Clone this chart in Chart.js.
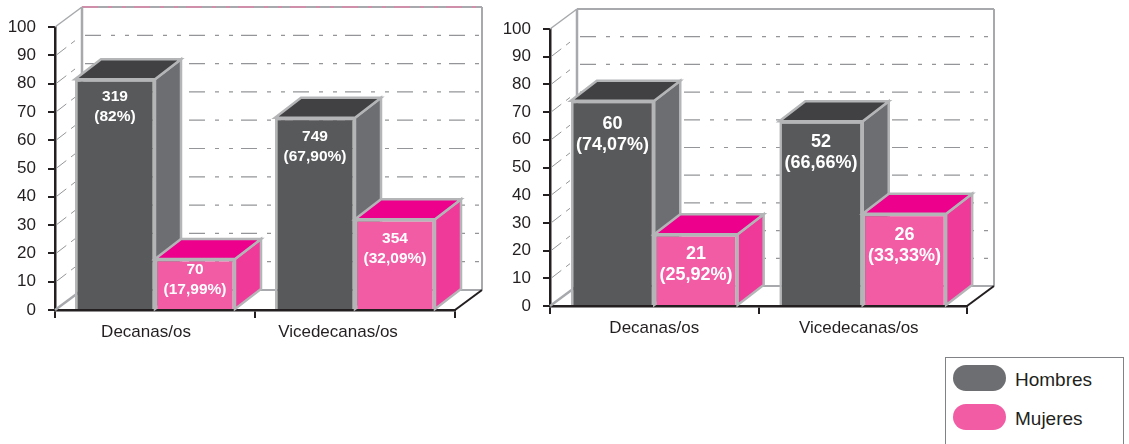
<!DOCTYPE html>
<html>
<head>
<meta charset="utf-8">
<title>Decanas y vicedecanas</title>
<script src="https://cdn.jsdelivr.net/npm/chart.js@4"></script>
<style>
  body { margin: 0; background: #fff; font-family: "Liberation Sans", sans-serif; color: #231f20; }
  #wrap { position: relative; width: 1129px; height: 444px; overflow: hidden; }
  canvas { position: absolute; top: 0; }
  #legend { position: absolute; left: 945px; top: 357px; width: 177px; height: 90px; border: 1px solid #808285; }
  .item { position: absolute; left: 7px; height: 26px; line-height: 26px; font-size: 19px; }
  .item i { position: absolute; left: 0; top: 0; width: 53px; height: 26px; border-radius: 13px; }
  .item span { position: absolute; left: 62px; top: 2px; white-space: nowrap; }
</style>
</head>
<body>
<div id="wrap">
  <canvas id="chartLeft" style="left:0"></canvas>
  <canvas id="chartRight" style="left:500px"></canvas>
  <div id="legend"></div>
</div>
<script>
const categories = ['Decanas/os', 'Vicedecanas/os'];
const seriesNames = ['Hombres', 'Mujeres'];

// percentages
const leftHombres = [81.5, 67.9];
const leftMujeres = [17.99, 32.09];
const rightHombres = [74.07, 66.66];
const rightMujeres = [25.92, 33.33];

// text printed on the bars
const leftHombresText = [['319', '(82%)'], ['749', '(67,90%)']];
const leftMujeresText = [['70', '(17,99%)'], ['354', '(32,09%)']];
const rightHombresText = [['60', '(74,07%)'], ['52', '(66,66%)']];
const rightMujeresText = [['21', '(25,92%)'], ['26', '(33,33%)']];

const INK = '#231f20';
const EDGE = '#b4b5b7';
const WALL = '#a7a9ac';
const faces = [
  { front: '#58595b', side: '#6d6e71', top: '#414042', legend: '#6d6e71' },
  { front: '#f15ca4', side: '#ef3a9a', top: '#ec008c', legend: '#f15ca4' }
];
const DX = 27, DY = 20;

function line(ctx, x1, y1, x2, y2, color, width, dash) {
  ctx.save();
  ctx.strokeStyle = color;
  ctx.lineWidth = width;
  ctx.setLineDash(dash || []);
  ctx.beginPath();
  ctx.moveTo(x1, y1);
  ctx.lineTo(x2, y2);
  ctx.stroke();
  ctx.restore();
}

function face(ctx, pts, fill) {
  ctx.beginPath();
  pts.forEach((p, i) => i ? ctx.lineTo(p[0], p[1]) : ctx.moveTo(p[0], p[1]));
  ctx.closePath();
  ctx.fillStyle = fill;
  ctx.fill();
  ctx.strokeStyle = EDGE;
  ctx.lineWidth = 2.5;
  ctx.lineJoin = 'miter';
  ctx.stroke();
}

// top and side of a bar go under its front
function drawDepth(chart, index) {
  const { ctx } = chart;
  const colors = faces[index];
  chart.getDatasetMeta(index).data.forEach(bar => {
    const { x, y, base, width } = bar.getProps(['x', 'y', 'base', 'width'], true);
    const r = x + width / 2, l = x - width / 2;
    face(ctx, [[r, y], [r + DX - 1, y - DY], [r + DX - 1, base - DY], [r, base]], colors.side);
    face(ctx, [[l, y], [l + DX - 1, y - DY], [r + DX - 1, y - DY], [r, y]], colors.top);
  });
}

// back wall, side wall and floor of the 3D box
const wallsPlugin = {
  id: 'walls',
  beforeDatasetsDraw(chart, args, opts) {
    const { ctx, chartArea: a, scales } = chart;
    const y = scales.y;
    const backL = a.left + DX, backR = a.right + DX;
    y.ticks.forEach(t => {
      const py = y.getPixelForValue(t.value);
      if (t.value === 0 || t.value === 100) return;
      line(ctx, backL + 3, py - DY, backR, py - DY, '#939598', 1.2, [16, 10, 4, 10, 4, 8]);
      line(ctx, a.left + 1, py, backL, py - DY, '#939598', 1, [13, 6, 5, 20]);
    });
    const top = y.getPixelForValue(100), zero = y.getPixelForValue(0);
    line(ctx, backL, top - DY, backR, top - DY, WALL, 2);
    if (opts.topDash) line(ctx, backL, top - DY, backR, top - DY, '#cf8fab', 2, [16, 10, 4, 10, 4, 8]);
    line(ctx, a.left, top, backL, top - DY, WALL, 1.5);
    line(ctx, backL, top - DY, backL, zero - DY, WALL, 2.5);
    line(ctx, backR, top - DY, backR, zero - DY, WALL, 2);
    line(ctx, backL, zero - DY, backR, zero - DY, WALL, 2);
    line(ctx, a.left, zero, backL, zero - DY, WALL, 2.5);
    line(ctx, a.right, zero, backR, zero - DY, INK, 2);
  },
  // Chart.js paints the last dataset first, but the pink boxes have to cover
  // the dark ones, so Mujeres waits until Hombres is finished
  beforeDatasetDraw(chart, args) {
    if (args.index === 1) return false;
    drawDepth(chart, 0);
  },
  afterDatasetDraw(chart, args) {
    if (args.index !== 0) return;
    drawDepth(chart, 1);
    chart.getDatasetMeta(1).controller.draw();
  },
  afterDatasetsDraw(chart, args, opts) {
    const { ctx, scales } = chart;
    ctx.save();
    ctx.textAlign = 'center';
    ctx.textBaseline = 'middle';
    ctx.fillStyle = '#fff';
    ctx.font = 'bold ' + opts.fontSize + 'px "Liberation Sans"';
    chart.data.datasets.forEach((ds, d) => {
      chart.getDatasetMeta(d).data.forEach((bar, i) => {
        const top = bar.y + opts.drops[d][i];
        ds.barText[i].forEach((txt, n) => ctx.fillText(txt, bar.x, top + n * opts.lineGap));
      });
    });
    // category names, the printed ones sit a bit off the tick centre
    ctx.fillStyle = INK;
    ctx.font = '17px "Liberation Sans"';
    categories.forEach((c, i) => {
      ctx.fillText(c, scales.x.getPixelForTick(i) + opts.nameShift[i], opts.nameY);
    });
    ctx.restore();
  }
};

function makeChart(id, hombres, mujeres, hombresText, mujeresText, box, wallOpts) {
  const canvas = document.getElementById(id);
  canvas.width = 500;
  canvas.height = 350;
  return new Chart(canvas, {
    type: 'bar',
    data: {
      labels: categories,
      datasets: [
        { label: seriesNames[0], data: hombres, barText: hombresText, backgroundColor: faces[0].front },
        { label: seriesNames[1], data: mujeres, barText: mujeresText, backgroundColor: faces[1].front }
      ]
    },
    plugins: [wallsPlugin],
    options: {
      responsive: false,
      animation: false,
      layout: { padding: { left: 0, right: box.right, top: box.top, bottom: 0 } },
      datasets: {
        bar: {
          categoryPercentage: 0.8,
          barPercentage: 1,
          borderColor: EDGE,
          borderWidth: 2.5,
          borderSkipped: 'bottom'
        }
      },
      plugins: {
        legend: { display: false },
        tooltip: { enabled: false },
        walls: wallOpts
      },
      scales: {
        x: {
          z: 1,
          border: { color: INK, width: 2.5 },
          grid: { offset: true, drawOnChartArea: false, color: INK, lineWidth: 2, tickLength: 8 },
          ticks: { display: false },
          afterFit: s => { s.height = box.bottom; }
        },
        y: {
          z: 1,
          min: 0,
          max: 100,
          border: { color: INK, width: 2.5 },
          grid: { drawOnChartArea: false, color: INK, lineWidth: 2, tickLength: 7 },
          ticks: { stepSize: 10, padding: 12, color: INK, font: { family: 'Liberation Sans', size: 17 } },
          afterFit: s => { s.width = box.left; }
        }
      }
    }
  });
}

makeChart('chartLeft', leftHombres, leftMujeres, leftHombresText, leftMujeresText,
  { left: 55, right: 45, top: 27, bottom: 40 },
  { topDash: true, fontSize: 15.5, lineGap: 20, drops: [[17, 19], [11, 20]], nameShift: [-9, -17], nameY: 332 });

makeChart('chartRight', rightHombres, rightMujeres, rightHombresText, rightMujeresText,
  { left: 50, right: 33, top: 29, bottom: 44 },
  { topDash: false, fontSize: 18, lineGap: 21, drops: [[23, 21], [20, 21]], nameShift: [0, -4], nameY: 328 });

const legend = document.getElementById('legend');
seriesNames.forEach((name, i) => {
  const item = document.createElement('div');
  item.className = 'item';
  item.style.top = (7 + i * 39) + 'px';
  item.innerHTML = '<i style="background:' + faces[i].legend + '"></i><span>' + name + '</span>';
  legend.appendChild(item);
});
</script>
</body>
</html>
